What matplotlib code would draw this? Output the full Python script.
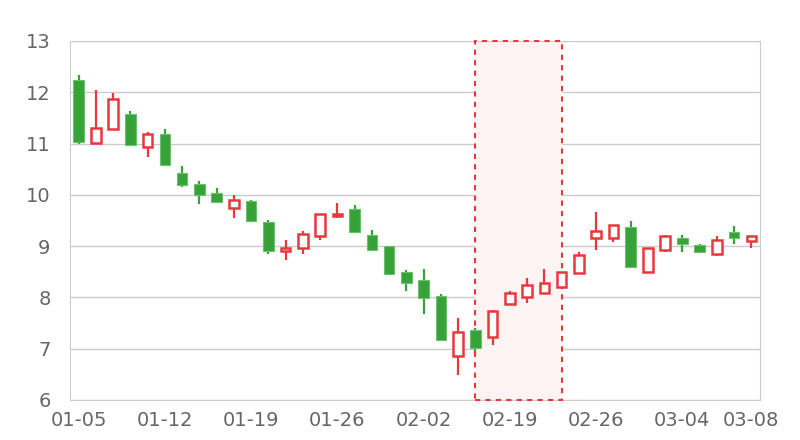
import matplotlib
matplotlib.use("Agg")
import matplotlib.pyplot as plt
import numpy as np
from matplotlib.patches import Rectangle

dates = ["01-05", "01-06", "01-07", "01-08", "01-09",
         "01-12", "01-13", "01-14", "01-15", "01-16",
         "01-19", "01-20", "01-21", "01-22", "01-23",
         "01-26", "01-27", "01-28", "01-29", "01-30",
         "02-02", "02-03", "02-04", "02-05", "02-06",
         "02-19", "02-22", "02-23", "02-24", "02-25",
         "02-26", "02-29", "03-01", "03-02", "03-03",
         "03-04", "03-05", "03-06", "03-07", "03-08"]
opens = [12.23, 11.01, 11.28, 11.57, 10.93, 11.19, 10.43, 10.21, 10.03, 9.75,
         9.87, 9.47, 8.90, 8.97, 9.20, 9.58, 9.73, 9.21, 9.01, 8.49,
         8.34, 8.02, 6.86, 7.36, 7.22, 7.87, 8.00, 8.09, 8.20, 8.48,
         9.16, 9.16, 9.38, 8.49, 8.92, 9.15, 9.02, 8.84, 9.27, 9.10]
closes = [11.02, 11.30, 11.87, 10.97, 11.18, 10.59, 10.20, 10.00, 9.86, 9.90,
          9.49, 8.90, 8.97, 9.24, 9.62, 9.62, 9.27, 8.93, 8.46, 8.29,
          7.98, 7.16, 7.32, 7.02, 7.73, 8.09, 8.25, 8.28, 8.49, 8.83,
          9.30, 9.41, 8.60, 8.97, 9.19, 9.04, 8.89, 9.12, 9.15, 9.20]
lows = [10.99, 11.00, 11.28, 10.95, 10.74, 10.56, 10.15, 9.82, 9.86, 9.55,
        9.48, 8.84, 8.72, 8.84, 9.11, 9.54, 9.26, 8.92, 8.43, 8.12,
        7.67, 7.16, 6.48, 6.88, 7.08, 7.87, 7.89, 8.09, 8.20, 8.48,
        8.93, 9.07, 8.60, 8.49, 8.89, 8.89, 8.88, 8.81, 9.05, 8.97]
highs = [12.33, 12.05, 11.99, 11.64, 11.23, 11.28, 10.56, 10.27, 10.13, 9.99,
         9.89, 9.51, 9.11, 9.30, 9.62, 9.84, 9.81, 9.32, 9.01, 8.54,
         8.55, 8.07, 7.59, 7.41, 7.76, 8.12, 8.37, 8.56, 8.49, 8.88,
         9.67, 9.41, 9.48, 8.97, 9.22, 9.21, 9.04, 9.19, 9.40, 9.20]
mark_start, mark_end = "02-05", "02-24"

up_color = "#e8383d"
down_color = "#37a23a"

fig = plt.figure(figsize=(8, 4.4), dpi=100)
ax = fig.add_axes([0.0875, 0.091, 0.8625, 0.816])

x = np.arange(len(dates))
o = np.array(opens)
c = np.array(closes)
up = c >= o

# highlighted area: fill behind, dashed border above the spines
x0, x1 = dates.index(mark_start), dates.index(mark_end)
ax.add_patch(Rectangle((x0, 6), x1 - x0, 7, facecolor="#fff4f4",
                       edgecolor="none", zorder=1))
ax.add_patch(Rectangle((x0, 6), x1 - x0, 7, facecolor="none",
                       edgecolor=up_color, linestyle=(0, (2.5, 2.5)),
                       linewidth=1.5, zorder=2.7, clip_on=False))

for i in x:
    col = up_color if up[i] else down_color
    ax.vlines(i, lows[i], highs[i], color=col, linewidth=1.6, zorder=2)
    bottom = min(o[i], c[i])
    height = max(abs(c[i] - o[i]), 0.02)
    if up[i]:
        ax.bar(i, height, bottom=bottom, width=0.56, facecolor="white",
               edgecolor=col, linewidth=1.8, zorder=3)
    else:
        ax.bar(i, height, bottom=bottom, width=0.6, facecolor=col,
               edgecolor="#6cc06c", linewidth=0.8, zorder=3)

ax.set_xlim(-0.5, len(dates) - 0.5)
ax.set_ylim(6, 13)
ax.set_yticks(range(6, 14))
ticks = list(range(0, len(dates), 5)) + [len(dates) - 1]
ax.set_xticks(ticks, [dates[t] for t in ticks])
ax.grid(axis="y", color="#cccccc", linewidth=1)
ax.set_axisbelow(True)
for s in ax.spines.values():
    s.set_color("#cccccc")
ax.tick_params(length=0, labelsize=14, colors="#666666")
ax.tick_params(axis="y", pad=14)
ax.tick_params(axis="x", pad=8)

fig.savefig("out.png", dpi=100)
